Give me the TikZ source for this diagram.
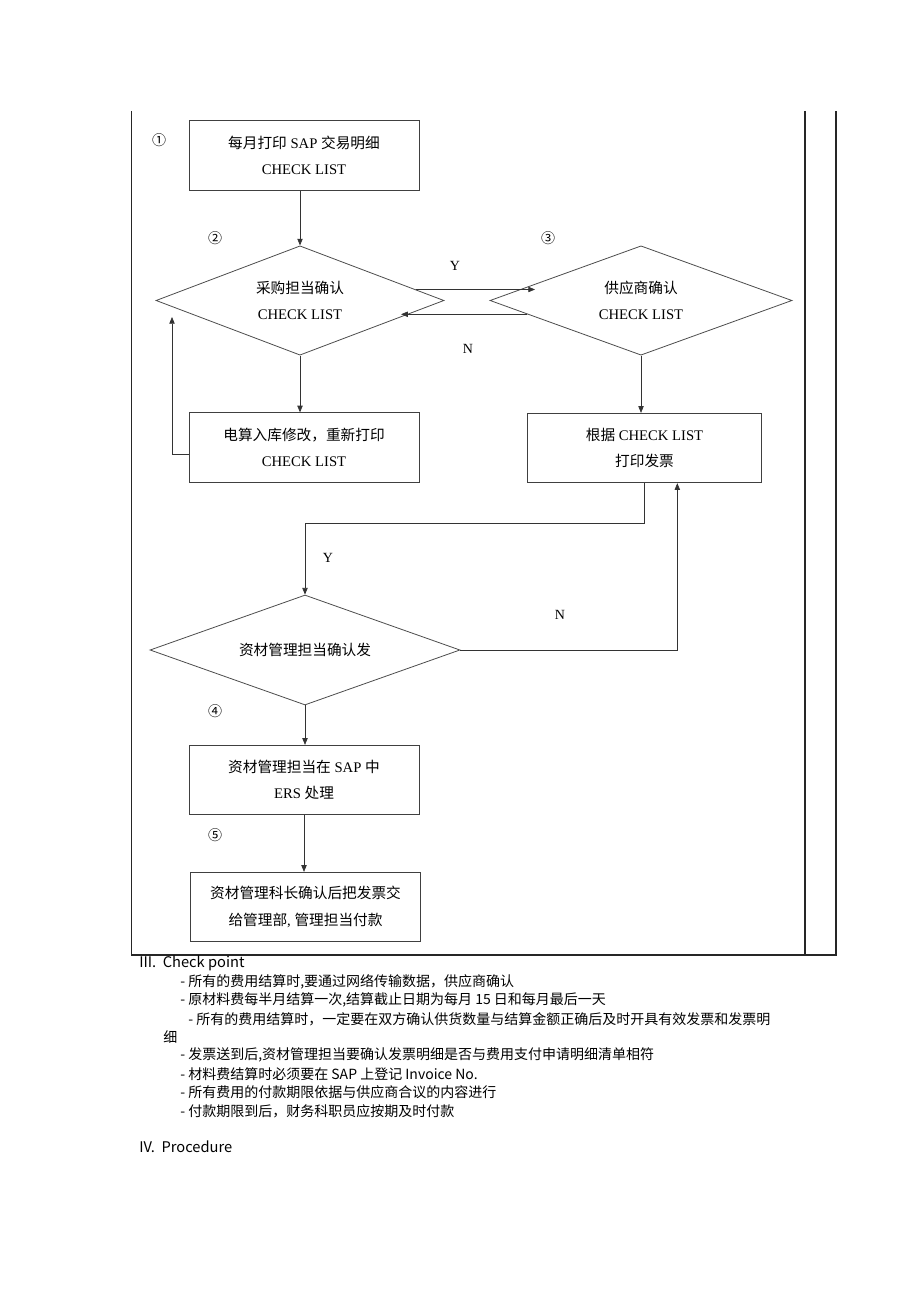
\documentclass[tikz,border=0pt]{standalone}
\usepackage{fontspec}
\setmainfont{Liberation Serif}
\newfontfamily\cjk{Noto Sans CJK SC}
\usetikzlibrary{shapes.geometric,arrows.meta,calc}

\tikzset{
  box/.style={draw=black!75,line width=0.7pt,minimum width=172.5pt,minimum height=52pt,
    align=center,inner sep=0pt,font=\fontsize{11}{20}\selectfont},
  decide/.style={diamond,aspect=2.7,draw=black!70,line width=0.6pt,align=center,inner sep=0pt,
    font=\fontsize{11}{19}\selectfont},
  flow/.style={draw=black!80,line width=0.5pt,-{Triangle[length=5pt,width=4pt]}},
  num/.style={font=\cjk\fontsize{10.5}{12}\selectfont},
  yn/.style={font=\fontsize{10.5}{12}\selectfont},
  frame/.style={line width=1.1pt,black!85},
  note/.style={anchor=west,inner sep=0pt,font=\cjk\fontsize{10.5}{12}\selectfont},
  head/.style={anchor=west,inner sep=0pt,font=\cjk\fontsize{11}{12}\selectfont},
}

\begin{document}
\begin{tikzpicture}[x=0.75pt,y=-0.75pt]
\useasboundingbox (0,0) rectangle (920,1302);

% outer frame
\draw[frame] (131.5,111) -- (131.5,955) -- (836,955) -- (836,111);
\draw[frame] (805,111) -- (805,955);

% steps
\node[box] (b1) at (304,155.5) {{\cjk 每月打印} SAP {\cjk 交易明细}\\CHECK LIST};
\node[decide,minimum width=216pt,minimum height=82pt] (dA) at (300,300.5)
  {{\cjk 采购担当确认}\\CHECK LIST};
\node[decide,minimum width=226.5pt,minimum height=82pt] (dB) at (641,300.5)
  {{\cjk 供应商确认}\\CHECK LIST};
\node[box] (b2) at (304,447.5) {{\cjk 电算入库修改，重新打印}\\CHECK LIST};
\node[box,minimum width=175pt] (b3) at (644.5,448) {{\cjk 根据} CHECK LIST\\{\cjk 打印发票}};
\node[decide,minimum width=232.5pt,minimum height=82.5pt] (dC) at (305,650)
  {\cjk 资材管理担当确认发};
\node[box] (b4) at (304,780) {{\cjk 资材管理担当在} SAP {\cjk 中}\\ERS {\cjk 处理}};
\node[box] (b5) at (305.5,907) {{\cjk 资材管理科长确认后把发票交}\\{\cjk 给管理部}, {\cjk 管理担当付款}};

% step numbers
\node[num] (n1) at (159,140) {①};
\node[num] (n2) at (215,238) {②};
\node[num] (n3) at (548,238) {③};
\node[num] (n4) at (215,711) {④};
\node[num] (n5) at (215,835) {⑤};

% helper points
\coordinate (yA) at ($(dA.north)!0.8!(dA.east)$);
\coordinate (yB) at ($(dB.west)!0.3!(dB.north)$);
\coordinate (nB) at ($(dB.west)!0.25!(dB.south)$);
\coordinate (nA) at ($(dA.east)!0.3!(dA.south)$);
\coordinate (fixIn) at (172,317);
\coordinate (b3in) at ($(b3.south west)!0.64!(b3.south east)$);

% connectors
\draw[flow] (b1.south -| dA.north) -- (dA.north);
\draw[flow] (yA) -- (yA -| yB);
\draw[flow] (nB) -- (nB -| nA);
\draw[flow] (dA.south) -- (dA.south |- b2.north);
\draw[flow] ($(b2.west)+(0,7)$) -| (fixIn);
\draw[flow] (dB.south) -- (dB.south |- b3.north);
\draw[flow] (b3.south) -- ++(0,40) -| (dC.north);
\draw[flow] (dC.east) -| (b3in);
\draw[flow] (dC.south) -- (dC.south |- b4.north);
\draw[flow] (b4.south) -- (b4.south |- b5.north);

% Y / N
\node[yn] (y1) at (455,266) {Y};
\node[yn] (x1) at (468,349) {N};
\node[yn] (y2) at (328,558) {Y};
\node[yn] (x2) at (560,615) {N};

% check points
\node[head] (h3) at (139,963) {III.\ \ Check point};
\node[note] (c1) at (180,982) {- 所有的费用结算时,要通过网络传输数据，供应商确认};
\node[note] (c2) at (180,1000) {- 原材料费每半月结算一次,结算截止日期为每月 15 日和每月最后一天};
\node[note] (c3) at (188,1019) {- 所有的费用结算时，一定要在双方确认供货数量与结算金额正确后及时开具有效发票和发票明};
\node[note] (c4) at (163,1037) {细};
\node[note] (c5) at (180,1055) {- 发票送到后,资材管理担当要确认发票明细是否与费用支付申请明细清单相符};
\node[note] (c6) at (180,1074) {- 材料费结算时必须要在 SAP 上登记 Invoice No.};
\node[note] (c7) at (180,1092) {- 所有费用的付款期限依据与供应商合议的内容进行};
\node[note] (c8) at (180,1111) {- 付款期限到后，财务科职员应按期及时付款};
\node[head] (h4) at (139,1147) {IV.\ \ Procedure};
\end{tikzpicture}
\end{document}
